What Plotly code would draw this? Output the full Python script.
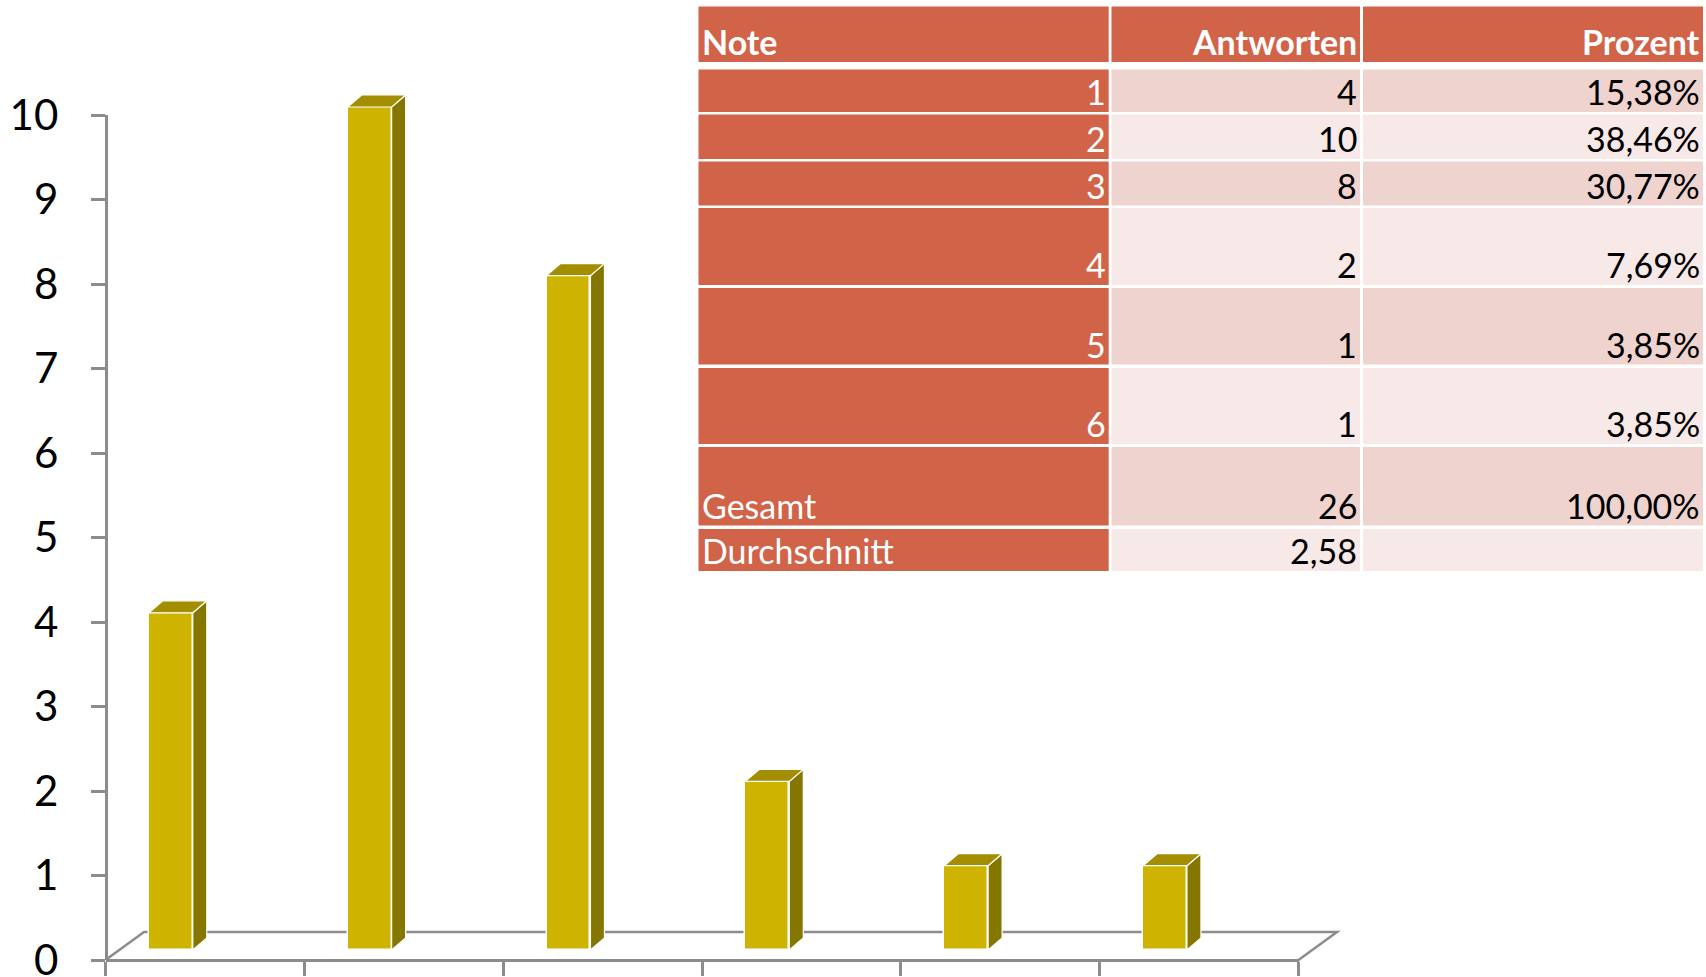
import plotly.graph_objects as go

# ---------------- data ----------------
noten = [1, 2, 3, 4, 5, 6]
antworten = [4, 10, 8, 2, 1, 1]
prozent = ["15,38%", "38,46%", "30,77%", "7,69%", "3,85%", "3,85%"]
table_header = ["Note", "Antworten", "Prozent"]
gesamt_label = "Gesamt"
gesamt_antworten = "26"
gesamt_prozent = "100,00%"
durchschnitt_label = "Durchschnitt"
durchschnitt_wert = "2,58"
y_ticks = list(range(0, 11))

# ---------------- style ----------------
W, H = 1706, 977
FRONT = "#CEB400"
SIDE = "#857600"
TOP = "#A28E00"
AXIS = "#8C8C8C"
RED = "#D16349"
ROW_A = "#EFD3CF"
ROW_B = "#F7E9E7"
FONT = "Lato"


def fx(px):
    return px / W


def fy(py):
    return 1 - py / H


# chart geometry in pixels
X0_PX, X1_PX = 105.5, 1298.5          # visible category axis
AX_Y0, AX_Y10 = 960, 115              # visible value axis
BAR_Y0, BAR_Y10 = 950, 107            # bar plane (3D depth)
BACK_Y = 932                          # back edge of the floor
FLOOR_DX_PX = 38.5
BAR_OFFSET, BAR_WIDTH = -0.282, 0.221
SIDE_DX_PX, SIDE_DY_PX = 14, 12

x_lo, x_hi = noten[0] - 0.5, noten[-1] + 0.5
ux = (X1_PX - X0_PX) / (x_hi - x_lo)          # px per category
bx0 = x_lo - X0_PX / ux
bx1 = bx0 + W / ux
uy = (BAR_Y0 - BAR_Y10) / 10.0                # px per unit (bar plane)
by0 = -(H - BAR_Y0) / uy
by1 = by0 + H / uy

SIDE_DX = SIDE_DX_PX / ux
SIDE_DY = SIDE_DY_PX / uy
FLOOR_DX = FLOOR_DX_PX / ux
FLOOR_FRONT = -(AX_Y0 - BAR_Y0) / uy
FLOOR_BACK = (BAR_Y0 - BACK_Y) / uy

fig = go.Figure()

# invisible anchor trace so the visible axes (x2 / y2) are drawn
fig.add_trace(go.Scatter(x=[x_lo, x_hi], y=[y_ticks[0], y_ticks[-1]], mode="markers",
                         marker=dict(opacity=0), xaxis="x2", yaxis="y2",
                         hoverinfo="skip", showlegend=False))

# front faces
fig.add_trace(go.Bar(
    x=noten, y=antworten, width=BAR_WIDTH, offset=BAR_OFFSET,
    marker=dict(color=FRONT, line=dict(color="white", width=1.5)),
    xaxis="x", yaxis="y", hoverinfo="skip", showlegend=False,
))

# side and top faces built from the same data
sx, sy, tx, ty = [], [], [], []
for n, v in zip(noten, antworten):
    xl = n + BAR_OFFSET
    xr = xl + BAR_WIDTH
    sx += [xr, xr + SIDE_DX, xr + SIDE_DX, xr, xr, None]
    sy += [0, SIDE_DY, v + SIDE_DY, v, 0, None]
    tx += [xl, xl + SIDE_DX, xr + SIDE_DX, xr, xl, None]
    ty += [v, v + SIDE_DY, v + SIDE_DY, v, v, None]
fig.add_trace(go.Scatter(x=sx, y=sy, fill="toself", fillcolor=SIDE, mode="lines",
                         line=dict(color="white", width=1.2), xaxis="x", yaxis="y",
                         hoverinfo="skip", showlegend=False))
fig.add_trace(go.Scatter(x=tx, y=ty, fill="toself", fillcolor=TOP, mode="lines",
                         line=dict(color="white", width=1.2), xaxis="x", yaxis="y",
                         hoverinfo="skip", showlegend=False))

# floor of the 3D plot (diagonals and back edge)
fig.add_shape(type="path", xref="x", yref="y", layer="below",
              path=(f"M {x_lo},{FLOOR_FRONT} L {x_lo + FLOOR_DX},{FLOOR_BACK} "
                    f"L {x_hi + FLOOR_DX},{FLOOR_BACK} L {x_hi},{FLOOR_FRONT}"),
              line=dict(color=AXIS, width=2.5))

# ---------------- table ----------------
cols = [(698.5, 1108.7), (1111.5, 1360), (1363, 1703)]
rows = [(6.5, 62), (69.6, 112), (114.5, 159), (161.5, 205.6), (208, 285),
        (288, 364.5), (368, 444), (447, 525.5), (529, 571)]

body = [[str(n), str(a), p] for n, a, p in zip(noten, antworten, prozent)]
body.append([gesamt_label, gesamt_antworten, gesamt_prozent])
body.append([durchschnitt_label, durchschnitt_wert, ""])
all_rows = [table_header] + body

for ri, (r0, r1) in enumerate(rows):
    for ci, (c0, c1) in enumerate(cols):
        if ri == 0 or ci == 0:
            col = RED
        else:
            col = ROW_A if ri % 2 == 1 else ROW_B
        fig.add_shape(type="rect", xref="paper", yref="paper",
                      x0=fx(c0), x1=fx(c1), y0=fy(r1), y1=fy(r0),
                      fillcolor=col, line=dict(width=0), layer="above")
        txt = all_rows[ri][ci]
        if not txt:
            continue
        left = ci == 0 and not txt.isdigit()
        fig.add_annotation(
            xref="paper", yref="paper",
            x=fx(c0 + 1) if left else fx(c1 - 1),
            xanchor="left" if left else "right",
            y=fy(r1 + 2), yanchor="bottom",
            text=f"<b>{txt}</b>" if ri == 0 else txt,
            showarrow=False,
            font=dict(family=FONT, size=34,
                      color="white" if (ri == 0 or ci == 0) else "black"),
        )

# ---------------- layout ----------------
fig.update_layout(
    width=W, height=H,
    margin=dict(l=0, r=0, t=0, b=0, autoexpand=False),
    paper_bgcolor="white", plot_bgcolor="rgba(0,0,0,0)",
    showlegend=False,
    bargap=0,
    xaxis=dict(domain=[0, 1], range=[bx0, bx1], anchor="y", visible=False,
               automargin=False, showgrid=False, zeroline=False),
    yaxis=dict(domain=[0, 1], range=[by0, by1], anchor="x", visible=False,
               automargin=False, showgrid=False, zeroline=False),
    xaxis2=dict(domain=[fx(X0_PX), fx(X1_PX)], range=[x_lo, x_hi],
                anchor="free", position=fy(AX_Y0),
                showline=True, linecolor=AXIS, linewidth=2.5,
                ticks="outside", ticklen=14, tickwidth=2.5, tickcolor=AXIS,
                tickvals=[n - 0.5 for n in noten] + [x_hi],
                showticklabels=False, showgrid=False, zeroline=False,
                automargin=False),
    yaxis2=dict(domain=[fy(AX_Y0), fy(AX_Y10)], range=[0, 10],
                anchor="free", position=fx(X0_PX),
                showline=True, linecolor=AXIS, linewidth=2.5,
                ticks="outside", ticklen=14, tickwidth=2.5, tickcolor=AXIS,
                tickvals=y_ticks, ticklabelstandoff=24, ticklabeloverflow="allow",
                tickfont=dict(family=FONT, size=42, color="black"),
                showgrid=False, zeroline=False, automargin=False),
)

fig.write_html(
    "out.html",
    config={"displayModeBar": False},
    post_script="document.body.style.margin='0';document.body.style.overflow='hidden';",
)
